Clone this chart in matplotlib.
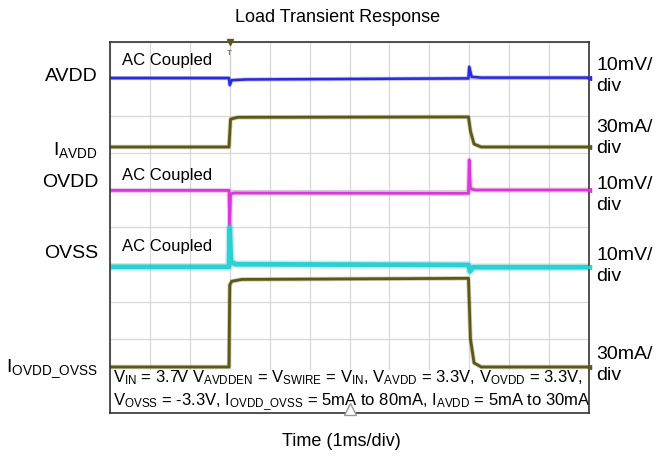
import matplotlib
matplotlib.use("Agg")
import matplotlib.pyplot as plt

plt.rcParams['font.family'] = ['Liberation Sans', 'DejaVu Sans']
plt.rcParams['mathtext.fontset'] = 'custom'
plt.rcParams['mathtext.rm'] = 'Liberation Sans'

# time in ms (1 ms/div), levels in screen divisions (0 = bottom, 10 = top)
avdd_t = [0, 2.98, 3.0, 3.05, 3.4, 8.98, 9.0, 9.06, 9.3, 12]
avdd_v = [9.03, 9.03, 8.84, 8.97, 8.99, 9.02, 9.33, 9.06, 9.04, 9.04]

iavdd_t = [0, 2.98, 3.02, 3.2, 8.98, 9.03, 9.12, 9.3, 12]
iavdd_v = [7.17, 7.17, 7.92, 7.97, 7.98, 7.6, 7.25, 7.17, 7.17]

ovdd_t = [0, 2.98, 3.0, 3.02, 3.1, 8.98, 9.0, 9.03, 9.15, 12]
ovdd_v = [6.0, 6.0, 5.02, 5.9, 5.93, 5.92, 6.82, 6.05, 6.01, 6.01]

ovss_t = [0, 2.98, 3.0, 3.03, 3.15, 8.98, 9.02, 9.1, 12]
ovss_v = [3.94, 3.94, 4.99, 4.08, 4.01, 3.99, 3.82, 3.93, 3.93]

iovdd_t = [0, 2.98, 3.0, 3.05, 3.3, 8.98, 9.03, 9.12, 9.3, 12]
iovdd_v = [1.24, 1.24, 3.45, 3.55, 3.6, 3.63, 2.0, 1.35, 1.24, 1.24]

left_labels = ['AVDD', r'$\mathregular{I_{AVDD}}$', 'OVDD', 'OVSS',
               r'$\mathregular{I_{OVDD\_OVSS}}$']
left_pos = [9.08, 7.08, 6.2, 4.29, 1.2]
right_labels = ['10mV/\ndiv', '30mA/\ndiv', '10mV/\ndiv', '10mV/\ndiv', '30mA/\ndiv']
right_pos = [9.08, 7.42, 5.88, 3.96, 1.3]
ac_pos = [9.5, 6.4, 4.5]

note = (r'$\mathregular{V_{IN}}$ = 3.7V $\mathregular{V_{AVDDEN}}$ = '
        r'$\mathregular{V_{SWIRE}}$ = $\mathregular{V_{IN}}$, $\mathregular{V_{AVDD}}$ = 3.3V, '
        r'$\mathregular{V_{OVDD}}$ = 3.3V,' '\n'
        r'$\mathregular{V_{OVSS}}$ = -3.3V, $\mathregular{I_{OVDD\_OVSS}}$ = 5mA to 80mA, '
        r'$\mathregular{I_{AVDD}}$ = 5mA to 30mA')

BLUE = '#2a2ad8'
OLIVE = '#5b5a14'
MAGENTA = '#d83ad8'
CYAN = '#2ccfd2'

fig = plt.figure(figsize=(6.56, 4.65), dpi=100)
ax = fig.add_axes([110 / 656, 52 / 465, 479 / 656, 371 / 465])
ax.set_xlim(0, 12)
ax.set_ylim(0, 10)
ax.set_xticks(range(13))
ax.set_yticks(range(11))
ax.grid(True, color='#d8d8d8', linewidth=0.9)
ax.tick_params(length=0, labelbottom=False, labelleft=False)
for s in ax.spines.values():
    s.set_color('#333333')
    s.set_linewidth(1.2)
    s.set_zorder(6)

# faint trigger line
ax.plot([3, 3], [9.1, 10], color='#cccccc', lw=0.8)

# traces: light halo to mimic the noise band, then core line
traces = [(avdd_t, avdd_v, BLUE, 1.8, 3.0),
          (iavdd_t, iavdd_v, OLIVE, 2.0, 3.2),
          (ovdd_t, ovdd_v, MAGENTA, 2.0, 3.6),
          (ovss_t, ovss_v, CYAN, 3.4, 5.6),
          (iovdd_t, iovdd_v, OLIVE, 2.0, 3.2)]
for t, v, c, lw, halo in traces:
    ax.plot(t, v, color=c, lw=halo, alpha=0.3, solid_joinstyle='round')
    ax.plot(t, v, color=c, lw=lw, solid_joinstyle='round')
    ax.plot([12], [v[-1]], marker='<', color=c, ms=3, clip_on=False, zorder=7)

for y in ac_pos:
    ax.text(0.3, y, 'AC Coupled', fontsize=12, va='center', ha='left')

ax.text(0.07, 0.6, note, fontsize=12, va='center', ha='left', linespacing=1.25,
        bbox=dict(facecolor='white', edgecolor='none', pad=1), zorder=4)

# trigger markers
ax.plot([3], [10], marker='v', color=OLIVE, ms=5, clip_on=False, zorder=7)
ax.text(3, 9.7, 'T', color=OLIVE, fontsize=6, ha='center', va='center')
ax.plot([6], [0.1], marker='^', mfc='white', mec='#999999', ms=9, clip_on=False, zorder=7)

for lab, y in zip(left_labels, left_pos):
    ax.text(-0.3, y, lab, fontsize=14, ha='right', va='center')
for lab, y in zip(right_labels, right_pos):
    ax.text(12.18, y, lab, fontsize=14, ha='left', va='center', linespacing=1.3)

fig.text(338 / 656, 1 - 17 / 465, 'Load Transient Response', fontsize=13,
         ha='center', va='center')
fig.text(341 / 656, 1 - 441 / 465, 'Time (1ms/div)', fontsize=13,
         ha='center', va='center')

fig.savefig('out.png', dpi=100)
